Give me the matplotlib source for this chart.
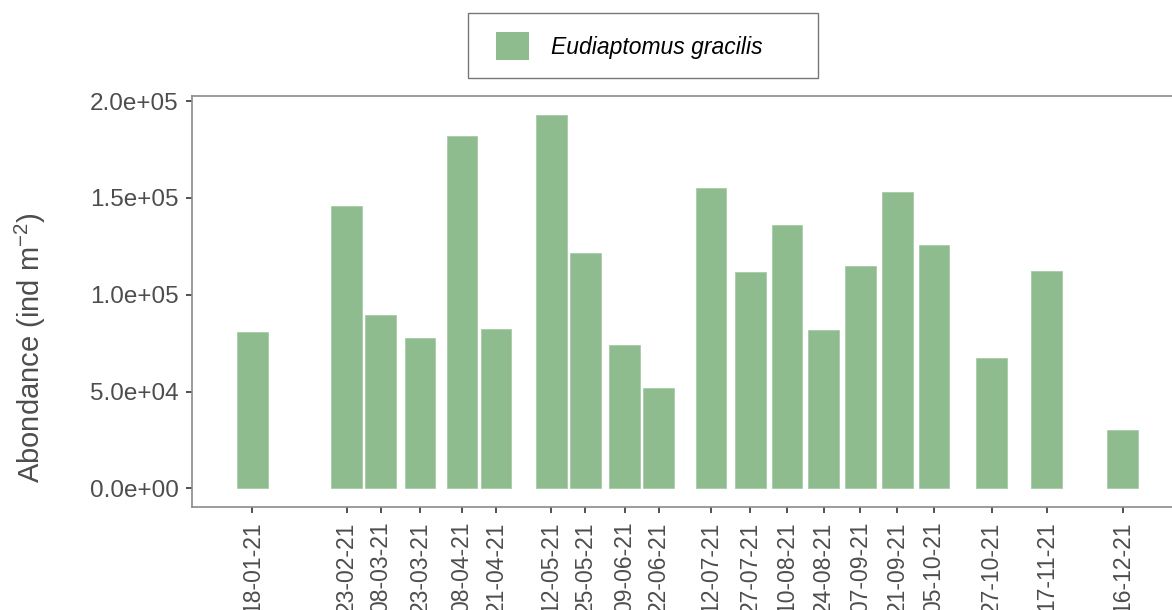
import pandas as pd
import matplotlib
matplotlib.use('Agg')
import matplotlib.pyplot as plt
import matplotlib.dates as mdates
from matplotlib.patches import Patch, Rectangle
from matplotlib.ticker import FuncFormatter

plt.rcParams['font.family'] = ['Liberation Sans', 'DejaVu Sans']

# sampling dates and abundance (ind m-2)
dates = ['18-01-21', '23-02-21', '08-03-21', '23-03-21', '08-04-21', '21-04-21',
         '12-05-21', '25-05-21', '09-06-21', '22-06-21', '12-07-21', '27-07-21',
         '10-08-21', '24-08-21', '07-09-21', '21-09-21', '05-10-21', '27-10-21',
         '17-11-21', '16-12-21']
abundance = [80600, 145700, 89400, 77500, 181900, 82200,
             193000, 121400, 73900, 51700, 155000, 111600,
             135900, 81700, 114700, 153000, 125600, 67200,
             112100, 30000]
species = 'Eudiaptomus gracilis'

bar_color = '#8fbc8f'
grey_txt = '#4d4d4d'
spine_col = '#8a8a8a'

x = mdates.date2num(pd.to_datetime(dates, format='%d-%m-%y'))
width = 0.9 * min(x[1:] - x[:-1])

fig = plt.figure(figsize=(11.72, 6.10), dpi=100)
# panel runs a little past the right edge, as in the cropped original
ax = fig.add_axes([192 / 1172, 103 / 610, 991 / 1172, 411 / 610])

ax.bar(x, abundance, width=width, color=bar_color, edgecolor='#a8cca8', linewidth=0.6)

lo = x.min() - width / 2
hi = x.max() + width / 2
pad = 0.05 * (hi - lo)
ax.set_xlim(lo - pad, hi + pad)
ymax = max(abundance)
ax.set_ylim(-0.05 * ymax, 1.05 * ymax)

ax.set_yticks([0, 50000, 100000, 150000, 200000])
ax.yaxis.set_major_formatter(FuncFormatter(lambda v, p: '{:.1e}'.format(v)))
ax.set_xticks(x)
ax.set_xticklabels(dates, rotation=90, va='top', ha='center')

ax.tick_params(axis='y', labelsize=17.5, colors=grey_txt, length=4.5, width=1.2, pad=5)
ax.tick_params(axis='x', labelsize=16.5, colors=grey_txt, length=4.5, width=1.2, pad=6)
ax.tick_params(axis='both', color='#333333')

for s in ['left', 'bottom', 'top']:
    ax.spines[s].set_color(spine_col)
    ax.spines[s].set_linewidth(1.2)
ax.spines['right'].set_visible(False)

fig.text(30 / 1172, 1 - 348 / 610, 'Abondance (ind m$^{\\mathregular{-2}}$)', rotation=90,
         ha='center', va='center', fontsize=21, color=grey_txt)

# legend box on top
fig.patches.append(Rectangle((468 / 1172, 1 - 78 / 610), 350 / 1172, 65 / 610,
                             transform=fig.transFigure, fill=False,
                             edgecolor='#777777', linewidth=1.0))
handle = Patch(facecolor=bar_color, edgecolor='none', label=species)
fig.legend(handles=[handle], loc='center left', bbox_to_anchor=(496 / 1172, 1 - 46 / 610),
           frameon=False, borderpad=0, borderaxespad=0, handlelength=1.45, handleheight=1.45,
           handletextpad=0.95, prop={'style': 'italic', 'size': 16.5})

plt.savefig('out.png', dpi=100)
